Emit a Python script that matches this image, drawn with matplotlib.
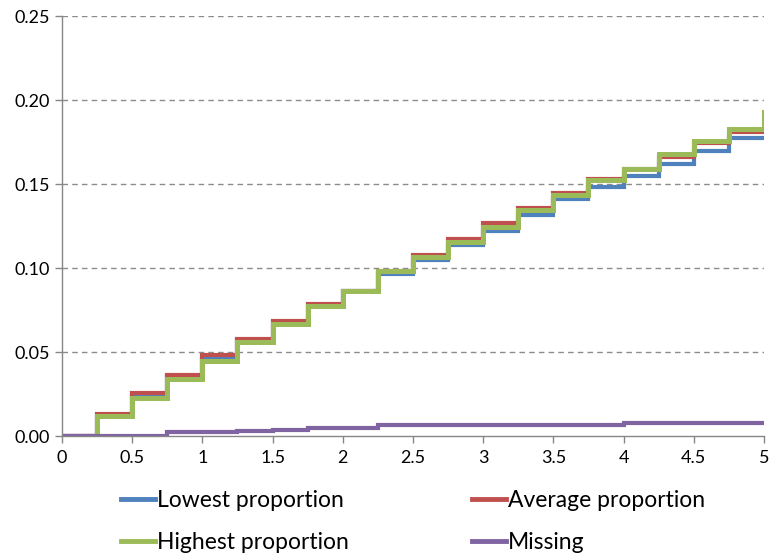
import numpy as np
import matplotlib.pyplot as plt
from matplotlib.ticker import FormatStrFormatter

plt.rcParams['font.family'] = ['Lato', 'DejaVu Sans']

# step positions (value holds from x[i] to x[i+1])
x = [0, 0.25, 0.5, 0.75, 1, 1.25, 1.5, 1.75, 2, 2.25, 2.5,
     2.75, 3, 3.25, 3.5, 3.75, 4, 4.25, 4.5, 4.75, 5]
lowest = [0, 0.012, 0.024, 0.035, 0.046, 0.057, 0.067, 0.078, 0.0865, 0.0964, 0.1048,
          0.1135, 0.1218, 0.1315, 0.1412, 0.148, 0.1548, 0.1619, 0.1698, 0.1772, 0.1772]
average = [0, 0.013, 0.0258, 0.0363, 0.048, 0.058, 0.0686, 0.0786, 0.0865, 0.098, 0.1077,
           0.1171, 0.1266, 0.1359, 0.1448, 0.153, 0.1591, 0.1661, 0.1742, 0.181, 0.181]
highest = [0, 0.0119, 0.0228, 0.0337, 0.0448, 0.0558, 0.0667, 0.0774, 0.0865, 0.0984, 0.1063,
           0.1155, 0.1246, 0.1345, 0.1432, 0.1524, 0.1591, 0.1677, 0.1758, 0.1829, 0.193]
missing = [0, 0, 0, 0.0024, 0.0024, 0.003, 0.0035, 0.0045, 0.005, 0.0068, 0.0068,
           0.0068, 0.0068, 0.0068, 0.0068, 0.0068, 0.008, 0.008, 0.008, 0.008, 0.008]

series = [
    ("Lowest proportion", lowest, "#4F81BD", 3.0),
    ("Average proportion", average, "#C0504D", 3.0),
    ("Highest proportion", highest, "#9BBB59", 3.6),
    ("Missing", missing, "#8064A2", 3.0),
]

fig = plt.figure(figsize=(7.69, 5.58), dpi=100)
ax = fig.add_axes([0.0806, 0.2186, 0.9129, 0.7527])

lines = {}
for name, vals, col, lw in series:
    lines[name], = ax.plot(x, vals, drawstyle="steps-post", color=col, lw=lw,
                           label=name, solid_joinstyle="miter")

ax.set_xlim(0, 5)
ax.set_ylim(0, 0.25)
ax.set_xticks(np.arange(0, 5.01, 0.5))
ax.set_xticklabels(["0", "0.5", "1", "1.5", "2", "2.5", "3", "3.5", "4", "4.5", "5"])
ax.set_yticks(np.arange(0, 0.251, 0.05))
ax.yaxis.set_major_formatter(FormatStrFormatter("%.2f"))

for y in np.arange(0.05, 0.251, 0.05):
    ax.axhline(y, color="#8c8c8c", lw=1.0, ls=(0, (4, 3)), zorder=0)

for s in ["top", "right"]:
    ax.spines[s].set_visible(False)
for s in ["left", "bottom"]:
    ax.spines[s].set_color("#868686")
    ax.spines[s].set_linewidth(1.0)
ax.tick_params(axis="both", colors="#868686", labelcolor="black", labelsize=13,
               length=5, width=1)
ax.tick_params(axis="x", pad=5)

# matplotlib fills legend columns first, so order handles to get rows like the original
order = ["Lowest proportion", "Highest proportion", "Average proportion", "Missing"]
leg = ax.legend([lines[n] for n in order], order, loc="upper left",
                bbox_to_anchor=(0.054, -0.08), ncol=2, frameon=False,
                fontsize=16.5, handlelength=1.5, handletextpad=0.1, columnspacing=5.35,
                labelspacing=0.9)
for h in leg.legend_handles:
    h.set_linewidth(3.5)

fig.savefig("out.png", dpi=100)
